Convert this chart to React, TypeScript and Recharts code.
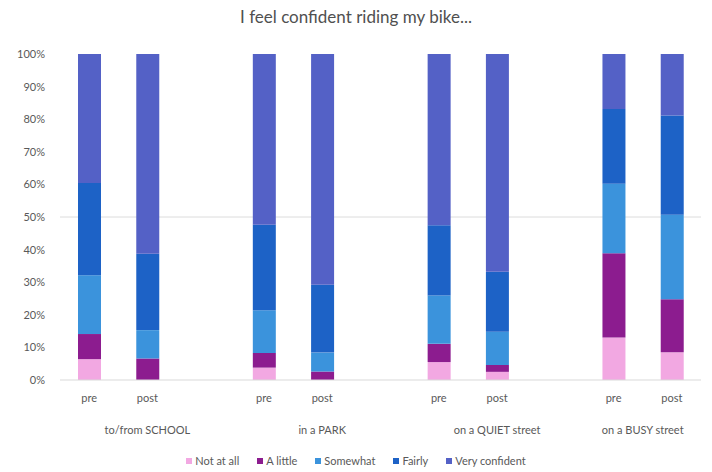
import React from "react";
import { BarChart, Bar, XAxis, YAxis, CartesianGrid } from "recharts";

const categories = ["pre", "post", "", "pre", "post", "", "pre", "post", "", "pre", "post"];
const groupOf = [0, 0, 0, 1, 1, 1, 2, 2, 2, 3, 3];
const groups = ["to/from SCHOOL", "in a PARK", "on a QUIET street", "on a BUSY street"];

const notAtAll = [6.4, 0, null, 3.8, 0, null, 5.5, 2.5, null, 13, 8.5];
const aLittle = [7.7, 6.6, null, 4.5, 2.6, null, 5.6, 2.1, null, 25.9, 16.3];
const somewhat = [18, 8.7, null, 13.1, 5.8, null, 14.8, 10.2, null, 21.3, 25.9];
const fairly = [28.3, 23.4, null, 26.2, 20.8, null, 21.6, 18.4, null, 22.9, 30.4];
const veryConfident = [39.6, 61.3, null, 52.4, 70.8, null, 52.5, 66.8, null, 16.9, 18.9];

const yTicks = [0, 10, 20, 30, 40, 50, 60, 70, 80, 90, 100];
const gridValues = [50];

const series = [
  { key: "notAtAll", name: "Not at all", color: "#f2a8e2" },
  { key: "aLittle", name: "A little", color: "#8c1c8f" },
  { key: "somewhat", name: "Somewhat", color: "#3b93dc" },
  { key: "fairly", name: "Fairly", color: "#1d62c6" },
  { key: "veryConfident", name: "Very confident", color: "#5461c6" },
];

const data = categories.map((label, i) => ({
  label,
  group: groupOf[i],
  notAtAll: notAtAll[i],
  aLittle: aLittle[i],
  somewhat: somewhat[i],
  fairly: fairly[i],
  veryConfident: veryConfident[i],
}));

const W = 712;
const H = 472;
const MARGIN = { top: 54, right: 11, left: 0, bottom: 30 };
const Y_WIDTH = 60;
const BAND = (W - MARGIN.left - MARGIN.right - Y_WIDTH) / categories.length;
const FONT = "Lato, 'Open Sans', sans-serif";
const TEXT = "#595959";

function CategoryTick(props: any) {
  const { x, y, index } = props;
  const label = categories[index];
  const g = groupOf[index];
  const isFirst = index === groupOf.indexOf(g);
  const count = groupOf.filter((v) => v === g).length;
  return (
    <g>
      {label && (
        <text x={x} y={y} dy={14} textAnchor="middle" fontSize={11} fill={TEXT} fontFamily={FONT}>
          {label}
        </text>
      )}
      {isFirst && (
        <text
          x={x + ((count - 1) / 2) * BAND}
          y={y}
          dy={46}
          textAnchor="middle"
          fontSize={11}
          fill={TEXT}
          fontFamily={FONT}
        >
          {groups[g]}
        </text>
      )}
    </g>
  );
}

function LegendRow() {
  return (
    <div
      style={{
        position: "absolute",
        left: 0,
        top: 454,
        width: W,
        display: "flex",
        justifyContent: "center",
        gap: 18,
        fontFamily: FONT,
        fontSize: 11,
        color: TEXT,
      }}
    >
      {series.map((s) => (
        <div key={s.key} style={{ display: "flex", alignItems: "center", gap: 3 }}>
          <span style={{ width: 6, height: 6, background: s.color, display: "inline-block" }} />
          <span>{s.name}</span>
        </div>
      ))}
    </div>
  );
}

export default function App() {
  return (
    <div style={{ position: "absolute", left: 0, top: 0, width: W, height: H, background: "#fff" }}>
      <div
        style={{
          position: "absolute",
          top: 6,
          left: 0,
          width: W,
          textAlign: "center",
          fontFamily: FONT,
          fontSize: 17,
          color: "#505050",
        }}
      >
        I feel confident riding my bike...
      </div>
      <BarChart width={W} height={H} data={data} margin={MARGIN} barSize={23}>
        <CartesianGrid vertical={false} horizontalValues={gridValues} stroke="#dcdcdc" />
        <XAxis
          dataKey="label"
          interval={0}
          tickLine={false}
          axisLine={{ stroke: "#d9d9d9" }}
          height={62}
          tick={<CategoryTick />}
        />
        <YAxis
          width={Y_WIDTH}
          domain={[0, 100]}
          ticks={yTicks}
          tickFormatter={(v) => `${v}%`}
          axisLine={false}
          tickLine={false}
          tickMargin={9}
          tick={{ fontSize: 11, fill: TEXT, fontFamily: FONT }}
        />
        {series.map((s) => (
          <Bar key={s.key} dataKey={s.key} name={s.name} stackId="a" fill={s.color} isAnimationActive={false} />
        ))}
      </BarChart>
      <LegendRow />
    </div>
  );
}
